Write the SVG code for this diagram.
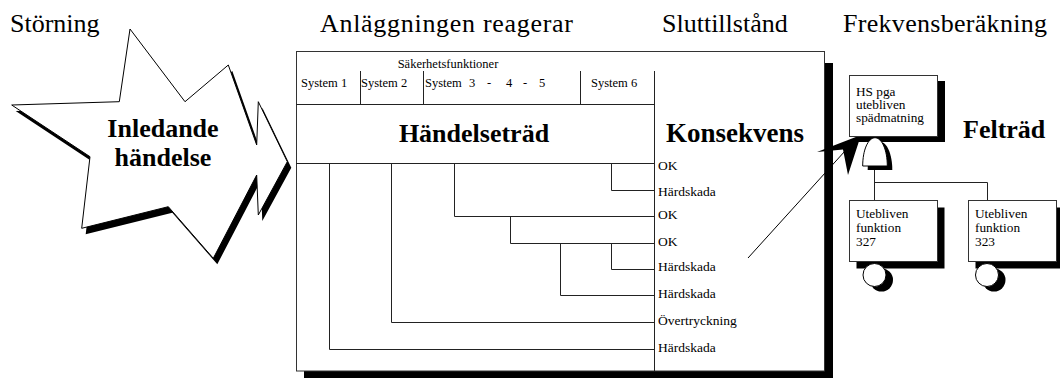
<svg xmlns="http://www.w3.org/2000/svg" width="1060" height="378" viewBox="0 0 1060 378">
<style>
text{font-family:"Liberation Serif","Times New Roman",serif;fill:#000}
.t{font-size:26px}
.b{font-size:26px;font-weight:bold}
.s{font-size:12.5px}
.o{font-size:13.5px}
.f{font-size:13.3px}
.l{fill:none;stroke:#222;stroke-width:1}
.box{fill:#fff;stroke:#333;stroke-width:1}
.sh{fill:#000}
</style>
<g id="titles">
<text class="t" x="10" y="32">Störning</text>
<text class="t" x="320" y="32" textLength="253" lengthAdjust="spacing">Anläggningen reagerar</text>
<text class="t" x="662" y="32">Sluttillstånd</text>
<text class="t" x="843" y="32" textLength="204" lengthAdjust="spacing">Frekvensberäkning</text>
</g>
<g id="initiating-event">
<polygon class="sh" transform="translate(4,6)" points="130,29 185,101.7 228.3,65 256.7,145 258.3,101.7 287.3,161.7 258.3,215 256.7,175 213.3,258.3 168.3,206.7 81.7,228.3 90,156.7 11.7,105 119.3,101.7"/>
<polygon fill="#fff" stroke="#000" stroke-width="1" points="130,29 185,101.7 228.3,65 256.7,145 258.3,101.7 287.3,161.7 258.3,215 256.7,175 213.3,258.3 168.3,206.7 81.7,228.3 90,156.7 11.7,105 119.3,101.7"/>
<text class="b" x="163" y="137" text-anchor="middle">Inledande</text>
<text class="b" x="163" y="166" text-anchor="middle">händelse</text>
</g>
<g id="event-tree">
<rect class="sh" x="304" y="63" width="529" height="320"/>
<rect class="box" x="296.5" y="51.5" width="528" height="319.5"/>
<text class="s" x="448" y="68" text-anchor="middle">Säkerhetsfunktioner</text>
<path class="l" d="M360.5,71V104 M423.5,71V104 M580.5,71V104 M654.5,71V371 M296,104.5H654 M296,163.5H654"/>
<text class="s" x="301" y="87">System 1</text>
<text class="s" x="361" y="87">System 2</text>
<text class="s" y="87"><tspan x="425">System</tspan><tspan x="469">3</tspan><tspan x="487">-</tspan><tspan x="506">4</tspan><tspan x="523">-</tspan><tspan x="539">5</tspan></text>
<text class="s" x="591" y="87">System 6</text>
<text class="b" x="474" y="142" text-anchor="middle">Händelseträd</text>
<text class="b" x="666" y="142" style="font-size:27px">Konsekvens</text>
</g>
<g id="connectors">
<path class="l" d="M329.5,163V349.5H654 M391.5,163V322.5H654 M454.5,163V216.5H654 M611.5,163V190.5H654 M510.5,216V243.5H654 M560.5,243V295.5H654 M611.5,243V269.5H654"/>
<path class="l" d="M874.5,166V200 M874.5,182.5H987.5V200"/>
<line x1="748" y1="258" x2="845" y2="151" stroke="#000" stroke-width="1"/>
<polygon fill="#000" points="861,135 817,152 843,149.5 848,175"/>
</g>
<g id="outcomes">
<text class="o" x="658" y="170">OK</text>
<text class="o" x="658" y="196">Härdskada</text>
<text class="o" x="658" y="219">OK</text>
<text class="o" x="658" y="246">OK</text>
<text class="o" x="658" y="271">Härdskada</text>
<text class="o" x="658" y="298">Härdskada</text>
<text class="o" x="658" y="325">Övertryckning</text>
<text class="o" x="658" y="352">Härdskada</text>
</g>
<g id="top-event">
<rect class="sh" x="857" y="81" width="88" height="61"/>
<rect class="box" x="849.5" y="75.5" width="88" height="61"/>
<text class="f" x="856" y="96">HS pga</text>
<text class="f" x="856" y="109">utebliven</text>
<text class="f" x="856" y="122">spädmatning</text>
</g>
<text id="fault-tree-label" class="b" x="963" y="138">Felträd</text>
<g id="and-gate">
<path class="sh" transform="translate(5,4)" d="M862.7,166C862.7,150 868,138 875,137.7C882,138 887.3,150 887.3,166Z"/>
<path fill="#fff" stroke="#000" stroke-width="1" d="M862.7,166C862.7,150 868,138 875,137.7C882,138 887.3,150 887.3,166Z"/>
</g>
<g id="basic-327">
<rect class="sh" x="856.5" y="207.5" width="88" height="61"/>
<rect class="box" x="849.5" y="200.5" width="88" height="61"/>
<circle class="sh" cx="881.5" cy="280" r="11.5"/>
<circle cx="874.5" cy="275" r="11.5" fill="#fff" stroke="#000" stroke-width="1"/>
<text class="f" x="856" y="218">Utebliven</text>
<text class="f" x="856" y="232">funktion</text>
<text class="f" x="856" y="246">327</text>
</g>
<g id="basic-323">
<rect class="sh" x="975.5" y="207.5" width="88" height="61"/>
<rect class="box" x="968.5" y="200.5" width="88" height="61"/>
<circle class="sh" cx="994" cy="280" r="11.5"/>
<circle cx="987" cy="275" r="11.5" fill="#fff" stroke="#000" stroke-width="1"/>
<text class="f" x="975" y="218">Utebliven</text>
<text class="f" x="975" y="232">funktion</text>
<text class="f" x="975" y="246">323</text>
</g>
</svg>
